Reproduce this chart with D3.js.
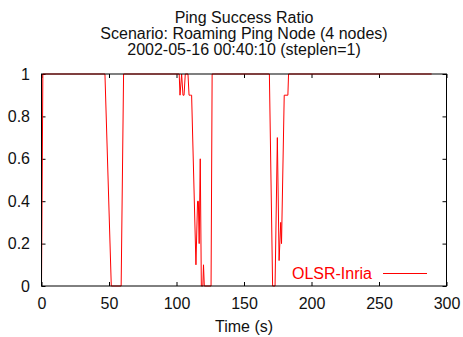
<!DOCTYPE html>
<html>
<head>
<meta charset="utf-8">
<script src="https://cdn.jsdelivr.net/npm/d3@7"></script>
<style>
  body { margin: 0; background: #fff; }
  svg { display: block; font-family: "Liberation Sans", Arial, sans-serif; }
</style>
</head>
<body>
<svg id="chart" width="463" height="337"></svg>
<script>
const titleLines = ['Ping Success Ratio', 'Scenario: Roaming Ping Node (4 nodes)', '2002-05-16 00:40:10 (steplen=1)'];
const seriesName = 'OLSR-Inria';
const times = [0, 1, 47, 51.7, 59, 60.8, 102, 102.6, 103.8, 104.8, 105.6, 106.5, 108.5, 109.3, 110.5, 111.2,
  114.4, 115.6, 116.2, 116.8, 117.6, 118.4, 119.5, 120, 120.6, 125.6, 126.4,
  168.8, 171.2, 173, 174.7, 176, 177.2, 177.8, 179.8, 182.5, 183, 289];
const ratios = [0, 1, 1, 0, 0, 1, 1, 0.9, 1, 0.9, 0.9, 1, 1, 0.9, 0.9, 0.9,
  0.1, 0.4, 0.4, 0.2, 0.6, 0, 0, 0.1, 0, 0, 1,
  1, 0, 0, 0.7, 0.12, 0.3, 0.2, 0.9, 0.9, 1, 1];
const xTicks = [0, 50, 100, 150, 200, 250, 300];
const yTicks = [0, 0.2, 0.4, 0.6, 0.8, 1];

const margin = {top: 74, right: 16.5, bottom: 51, left: 41.5};
const width = 463, height = 337;
const fs = '16px';
const svg = d3.select('#chart');

const x = d3.scaleLinear().domain([0, 300]).range([margin.left, width - margin.right]);
const y = d3.scaleLinear().domain([0, 1]).range([height - margin.bottom, margin.top]);

const data = times.map((t, i) => ({t: t, v: ratios[i]}));

// titles
svg.append('g').selectAll('text')
  .data(titleLines)
  .enter().append('text')
  .attr('x', 244)
  .attr('y', (d, i) => 23 + i * 16)
  .attr('text-anchor', 'middle')
  .style('font-size', fs)
  .attr('fill', '#111')
  .text(d => d);

// axes, gnuplot style: inward ticks mirrored on all four sides
const tl = 4;
svg.append('g')
  .attr('transform', `translate(0,${y(0)})`)
  .call(d3.axisBottom(x).tickValues(xTicks).tickSize(-tl).tickPadding(12).tickFormat(d3.format('d')));
svg.append('g')
  .attr('transform', `translate(0,${y(1)})`)
  .call(d3.axisTop(x).tickValues(xTicks).tickSize(-tl).tickFormat(''));
svg.append('g')
  .attr('transform', `translate(${x(0)},0)`)
  .call(d3.axisLeft(y).tickValues(yTicks).tickSize(-tl).tickPadding(11.5).tickFormat(d3.format('')));
svg.append('g')
  .attr('transform', `translate(${x(300)},0)`)
  .call(d3.axisRight(y).tickValues(yTicks).tickSize(-tl).tickFormat(''));

svg.selectAll('.domain').remove();
svg.selectAll('.tick line').attr('stroke', '#000');
svg.selectAll('.tick text')
  .attr('fill', '#111')
  .style('font-size', fs)
  .style('font-family', '"Liberation Sans", Arial, sans-serif');

// series
svg.append('path')
  .datum(data)
  .attr('fill', 'none')
  .attr('stroke', '#ff0000')
  .attr('stroke-width', 1)
  .attr('d', d3.line().x(d => x(d.t)).y(d => y(d.v)));

// border
svg.append('rect')
  .attr('x', x(0)).attr('y', y(1))
  .attr('width', x(300) - x(0)).attr('height', y(0) - y(1))
  .attr('fill', 'none').attr('stroke', '#000').attr('stroke-width', 1);

// legend
svg.append('text')
  .attr('x', 372).attr('y', 279)
  .attr('text-anchor', 'end')
  .attr('fill', '#ff0000')
  .style('font-size', fs)
  .text(seriesName);
svg.append('line')
  .attr('x1', 383).attr('x2', 427)
  .attr('y1', 273.5).attr('y2', 273.5)
  .attr('stroke', '#ff0000').attr('stroke-width', 1);

// x label
svg.append('text')
  .attr('x', 244).attr('y', 332)
  .attr('text-anchor', 'middle')
  .attr('fill', '#111')
  .style('font-size', fs)
  .text('Time (s)');
</script>
</body>
</html>
